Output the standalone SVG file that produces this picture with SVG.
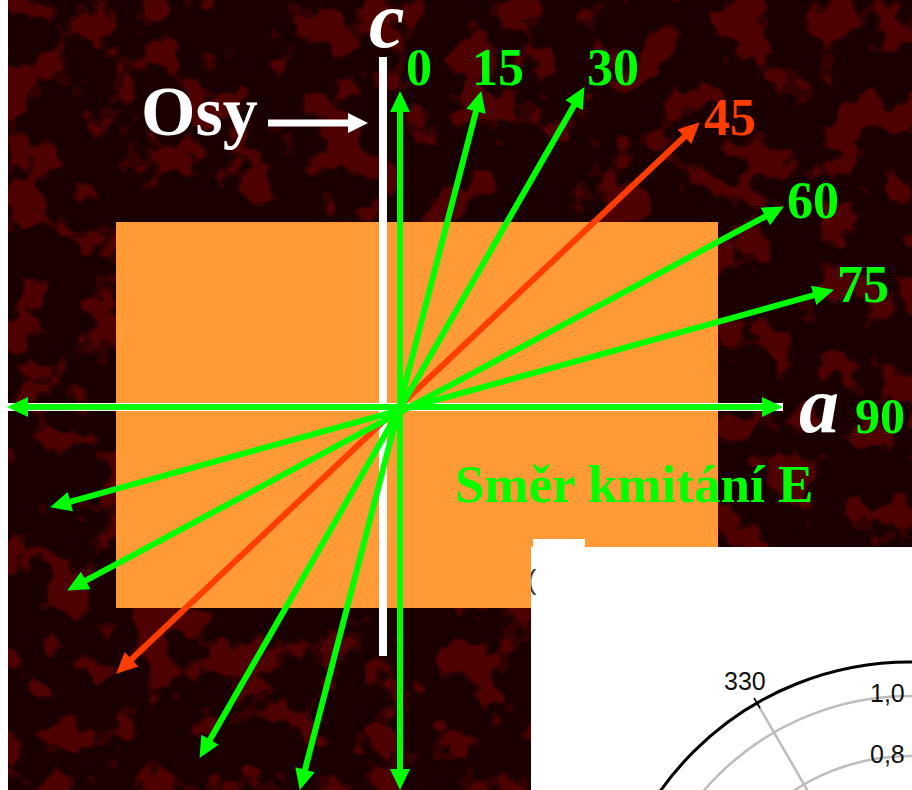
<svg xmlns="http://www.w3.org/2000/svg" width="912" height="790" viewBox="0 0 912 790">
  <style>
    .ax { fill: none; stroke: #ffffff; stroke-width: 8; }
    .g { fill: none; stroke: #00ff00; stroke-width: 6; marker-start: url(#hg); marker-end: url(#hg); }
    .r { fill: none; stroke: #ff3d00; stroke-width: 6; marker-start: url(#hr); marker-end: url(#hr); }
    .num { font-family: "Liberation Serif", "Times New Roman", serif; font-weight: bold; font-size: 52px; fill: #00ff00; }
    .big { font-family: "Liberation Serif", "Times New Roman", serif; font-weight: bold; font-style: italic; font-size: 80px; fill: #ffffff; }
    .pl { font-family: "Liberation Sans", Arial, sans-serif; font-size: 25px; fill: #111111; }
    .ring { fill: none; stroke: #bdbdbd; stroke-width: 2.5; }
  </style>
  <defs>
    <filter id="tex" x="0" y="0" width="912" height="790" filterUnits="userSpaceOnUse" color-interpolation-filters="sRGB">
      <feTurbulence type="fractalNoise" baseFrequency="0.022" numOctaves="3" seed="7"/>
      <feColorMatrix type="matrix" values="0 0 0 0 0.31  0 0 0 0 0  0 0 0 0 0  1 0 0 0 0"/>
      <feComponentTransfer>
        <feFuncA type="discrete" tableValues="0 0 0 0 0 0 0 0 0 0 0 0.45 1 1 1 1 1 1 1 1"/>
      </feComponentTransfer>
    </filter>
    <marker id="hg" markerUnits="userSpaceOnUse" markerWidth="20" markerHeight="20" refX="8" refY="10" orient="auto-start-reverse" overflow="visible">
      <path d="M0,0 L21,10 L0,20 Z" fill="#00ff00"/>
    </marker>
    <marker id="hr" markerUnits="userSpaceOnUse" markerWidth="20" markerHeight="20" refX="8" refY="10" orient="auto-start-reverse" overflow="visible">
      <path d="M0,0 L21,10 L0,20 Z" fill="#ff3d00"/>
    </marker>
    <marker id="hw" markerUnits="userSpaceOnUse" markerWidth="20" markerHeight="20" refX="6" refY="10" orient="auto" overflow="visible">
      <path d="M0,0 L20,10 L0,20 Z" fill="#ffffff"/>
    </marker>
    <clipPath id="panelclip">
      <rect x="531" y="547" width="381" height="243"/>
      <rect x="533" y="539" width="52" height="8"/>
    </clipPath>
  </defs>

  <g id="background">
    <rect x="0" y="0" width="912" height="790" fill="#1a0000"/>
    <rect x="0" y="0" width="912" height="790" filter="url(#tex)"/>
    <rect x="0" y="0" width="8" height="790" fill="#ffffff"/>
  </g>

  <g id="crystal">
    <rect x="116" y="222" width="602" height="386" fill="#ff9a36"/>
  </g>

  <g id="axes">
    <line class="ax" x1="383" y1="57" x2="383" y2="656"/>
    <line class="ax" x1="8" y1="407" x2="783" y2="407" stroke-width="5"/>
  </g>

  <g id="connectors">
    <line class="r" x1="125.7" y1="664.8" x2="690.3" y2="131.2"/>
    <line class="g" x1="400" y1="777" x2="400" y2="104"/>
    <line class="g" x1="303" y1="777.4" x2="478" y2="103.6"/>
    <line class="g" x1="206" y1="746.6" x2="578" y2="98.4"/>
    <line class="g" x1="78.6" y1="584.3" x2="772.4" y2="212.7"/>
    <line class="g" x1="62.6" y1="503.8" x2="821.4" y2="293.2"/>
    <line class="g" x1="20" y1="407" x2="770" y2="407"/>
    <line x1="268" y1="123" x2="354" y2="123" stroke="#ffffff" stroke-width="7" marker-end="url(#hw)"/>
  </g>

  <g id="label-c"><text class="big" x="369" y="47">c</text></g>
  <g id="label-a"><text class="big" x="799" y="432">a</text></g>
  <g id="label-osy"><text x="141" y="135" font-family="Liberation Serif, Times New Roman, serif" font-weight="bold" font-size="70" fill="#ffffff">Osy</text></g>
  <g id="label-0"><text class="num" x="406" y="85">0</text></g>
  <g id="label-15"><text class="num" x="472" y="85">15</text></g>
  <g id="label-30"><text class="num" x="587" y="85">30</text></g>
  <g id="label-45"><text class="num" x="704" y="135" style="fill:#ff3d00">45</text></g>
  <g id="label-60"><text class="num" x="787" y="218">60</text></g>
  <g id="label-75"><text class="num" x="837" y="302">75</text></g>
  <g id="label-90"><text class="num" x="855" y="433" style="font-size:50px">90</text></g>
  <g id="label-smer"><text class="num" x="455" y="502" style="font-size:53px">Směr kmitání E</text></g>

  <g id="polar-plot">
    <rect x="531" y="547" width="381" height="243" fill="#ffffff"/>
    <rect x="533" y="539" width="52" height="8" fill="#ffffff"/>
    <g clip-path="url(#panelclip)">
      <text class="pl" x="527" y="589" style="font-size:28px;fill:#333333">(</text>
      <circle class="ring" cx="910" cy="968" r="272"/>
      <circle class="ring" cx="910" cy="968" r="212"/>
      <line x1="757" y1="703" x2="910" y2="968" stroke="#bdbdbd" stroke-width="2.5"/>
      <circle cx="910" cy="968" r="306" fill="none" stroke="#000000" stroke-width="3"/>
      <line x1="760" y1="708" x2="754" y2="698" stroke="#000000" stroke-width="1.5"/>
      <text class="pl" x="724" y="690">330</text>
      <text class="pl" x="870" y="702">1,0</text>
      <text class="pl" x="870" y="763">0,8</text>
    </g>
  </g>
</svg>
